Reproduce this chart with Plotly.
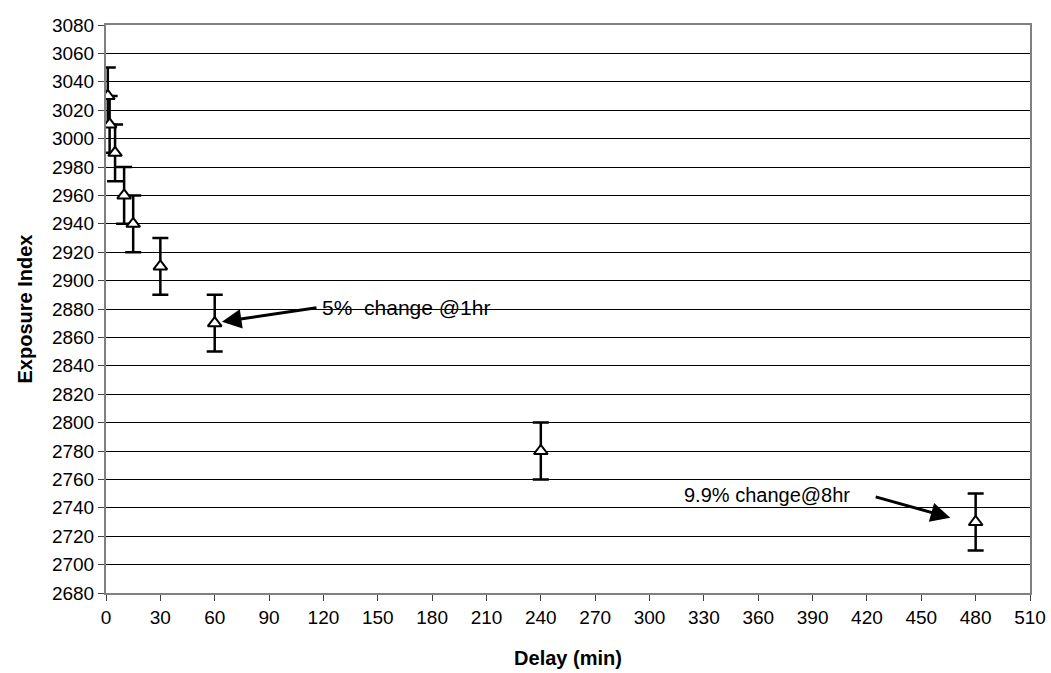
import plotly.graph_objects as go

delay = [1, 2, 5, 10, 15, 30, 60, 240, 480]
exposure = [3030, 3010, 2990, 2960, 2940, 2910, 2870, 2780, 2730]
err = [20, 20, 20, 20, 20, 20, 20, 20, 20]
x_ticks = list(range(0, 511, 30))
y_ticks = list(range(2680, 3081, 20))

fig = go.Figure()
fig.add_trace(go.Scatter(
    x=delay, y=exposure, mode="markers",
    marker=dict(symbol="triangle-up", size=12, color="white",
                line=dict(color="black", width=2)),
    error_y=dict(type="data", array=err, visible=True, color="black",
                 thickness=2.5, width=8),
    showlegend=False,
))

font = "Liberation Sans, Arial, sans-serif"
fig.update_layout(
    width=1051, height=673, autosize=False,
    margin=dict(l=106, r=21, t=25, b=80, pad=0),
    paper_bgcolor="white", plot_bgcolor="white",
    font=dict(family=font, size=19, color="black"),
    xaxis=dict(range=[0, 510], tickvals=x_ticks, showgrid=False,
               showline=True, linecolor="#808080", linewidth=2, mirror=True,
               ticks="outside", ticklen=6, tickcolor="#404040",
               tickfont=dict(size=19), zeroline=False, automargin=False,
               title=dict(text="<b>Delay (min)</b>", font=dict(size=20), standoff=24)),
    yaxis=dict(range=[2680, 3080], tickvals=y_ticks, showgrid=True,
               gridcolor="black", gridwidth=1,
               showline=True, linecolor="#808080", linewidth=2, mirror=True,
               ticks="outside", ticklen=6, tickcolor="#404040",
               tickfont=dict(size=19), zeroline=False, automargin=False,
               title=dict(text="<b>Exposure Index</b>", font=dict(size=20), standoff=14)),
)

fig.add_annotation(x=64, y=2871, ax=117, ay=2881, xref="x", yref="y",
                   axref="x", ayref="y", text="", showarrow=True,
                   arrowhead=2, arrowsize=1.3, arrowwidth=3, arrowcolor="black")
fig.add_annotation(x=118, y=2881, xref="x", yref="y", text="5%\u00a0 change @1hr",
                   showarrow=False, xanchor="left", yanchor="middle",
                   font=dict(size=21))
fig.add_annotation(x=466, y=2733, ax=424, ay=2748, xref="x", yref="y",
                   axref="x", ayref="y", text="", showarrow=True,
                   arrowhead=2, arrowsize=1.3, arrowwidth=3, arrowcolor="black")
fig.add_annotation(x=412, y=2749, xref="x", yref="y", text="9.9% change@8hr",
                   showarrow=False, xanchor="right", yanchor="middle",
                   font=dict(size=20))

fig.write_html("out.html")
